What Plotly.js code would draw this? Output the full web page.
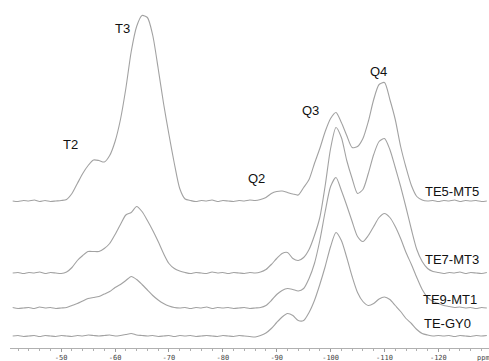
<!DOCTYPE html>
<html>
<head>
<meta charset="utf-8">
<script src="https://cdn.plot.ly/plotly-3.0.1.min.js"></script>
<style>html,body{margin:0;padding:0;background:#fff;}#chart{width:489px;height:361px;}</style>
</head>
<body>
<div id="chart"></div>
<script>
// chemical shift grid (ppm)
const ppm = [-41,-42,-43,-44,-45,-46,-47,-48,-49,-50,
  -51,-52,-53,-54,-55,-56,-57,-58,-59,-60,
  -61,-62,-63,-64,-65,-66,-67,-68,-69,-70,
  -71,-72,-73,-74,-75,-76,-77,-78,-79,-80,
  -81,-82,-83,-84,-85,-86,-87,-88,-89,-90,
  -91,-92,-93,-94,-95,-96,-97,-98,-99,-100,
  -101,-102,-103,-104,-105,-106,-107,-108,-109,-110,
  -111,-112,-113,-114,-115,-116,-117,-118,-119,-120,
  -121,-122,-123,-124,-125,-126,-127,-128,-129];

// intensities (relative)
const te5mt5 = [0.5,0,1,0.5,1.5,0,1,0,0.5,1,
  2,8,18,28,36,41.5,41,39.5,46,60,
  82,113,150,175,186,184,166,133,98,67,
  38,13,2.5,1,0,1,0.5,1.5,0,1,
  0.5,0,1,0.5,1.5,1,2,4,8,10,
  10.5,9,7.5,6.5,14,22,38,53,70,83,
  89,79,66,54,55,63,80,102,117,119,
  102,82,55,34,16,5,1.5,0.5,1,0,
  1,0.5,1.5,0,1,0.5,1,0,0.5];

const te7mt3 = [0.5,1,0,1,0.5,1.5,0,1,0.5,0,
  1.5,6,13,18,22,22,22,25,30,39,
  49,58.5,61,67,62,53,43,32,20,10,
  5,2.5,1,0,1,0.5,0,1.5,0.5,1,
  0,1,0.5,0,1,0.5,1.5,4,9,15,
  20,21,15,13,16,24,38,56,88,125,
  146,136,113,95,80,84,100,119,132,135,
  124,106,87,66,44,24,12,5,2,1,
  0,1,0.5,1.5,0,1,0.5,0,1];

const te9mt1 = [1,0,0.5,1,0,1.5,0.5,1,0,0.5,
  1,3,5,7.5,10,11,12,14.5,17,21,
  24,28,32,29,24,18.5,13,8.5,5,2.5,
  1,0.5,1,0,1,0.5,1.5,0,1,0.5,
  1,0,0.5,1,0,0.5,1,3,8,14,
  18,20,19,17.5,20,30,45,68,97,122,
  131,118,103,87,72,67,73,82,91,95,
  91,82,70,56,44,31,19,11,7,5,
  3,2,1,1.5,0.5,1,0,1,0.5];

const tegy0 = [0.5,1,0,0.5,1,0,1,0.5,0,1,
  0.5,0,1,0.5,1.5,1,0.5,1,1.5,0.5,
  1,2,3,1.5,1,0.5,1,0,0.5,1,
  0,1,0.5,1,0,0.5,1,0.5,0,1,
  0.5,0,1,0.5,0,-0.5,1,3.5,8,14,
  19.5,23,21,16,16,24,36,52,70,90,
  104,96,79,60,44,35,31,33,37.5,39.5,
  37,31,25,18,13,7,3,1.5,0.5,1,
  0.5,1,0,1,0.5,0,1,0.5,1];

const seriesNames = ["TE5-MT5","TE7-MT3","TE9-MT1","TE-GY0"];
const peakLabels = ["T2","T3","Q2","Q3","Q4"];
const tickVals = [-50,-60,-70,-80,-90,-100,-110,-120];
const tickText = ["-50","-60","-70","-80","-90","-100","-110","-120"];
const unitLabel = "ppm";

// stacking offsets (layout)
const stackOffsets = [146.5, 74.5, 39.5, 11.5];
const seriesData = [te5mt5, te7mt3, te9mt1, tegy0];

const traces = seriesData.map((vals, i) => ({
  x: ppm,
  y: vals.map(v => v + stackOffsets[i]),
  type: 'scatter',
  mode: 'lines',
  name: seriesNames[i],
  line: {color: '#a2a2a2', width: 1.1, shape: 'spline', smoothing: 0.7},
  hoverinfo: 'skip'
}));

const txtFont = {family: 'Liberation Sans, Arial, sans-serif', size: 13, color: '#111111'};
const peakPos = [[-51.7, 204], [-61.3, 319.7], [-86.3, 169.7], [-96.2, 238], [-108.9, 276.3]];
const namePos = [[-122.5, 156.3], [-122.5, 88.7], [-122.2, 48.7], [-121.7, 24.7]];

const annotations = [];
peakLabels.forEach((t, i) => annotations.push({
  x: peakPos[i][0], y: peakPos[i][1], xref: 'x', yref: 'y', text: t,
  showarrow: false, font: txtFont, xanchor: 'center', yanchor: 'middle'
}));
seriesNames.forEach((t, i) => annotations.push({
  x: namePos[i][0], y: namePos[i][1], xref: 'x', yref: 'y', text: t,
  showarrow: false, font: txtFont, xanchor: 'center', yanchor: 'middle'
}));
annotations.push({
  x: -128.3, y: 0, xref: 'x', yref: 'paper', text: unitLabel, showarrow: false,
  yanchor: 'top', xanchor: 'center', yshift: -4,
  font: {family: 'DejaVu Sans Mono, monospace', size: 7, color: '#444'}
});

const layout = {
  width: 489, height: 361,
  margin: {l: 10, r: 0, t: 0, b: 13},
  paper_bgcolor: '#ffffff', plot_bgcolor: '#ffffff',
  showlegend: false,
  xaxis: {
    range: [-40.5, -129.4],
    showgrid: false, zeroline: false,
    showline: true, linecolor: '#b0b0b0', linewidth: 1,
    ticks: 'outside', ticklen: 3, tickcolor: '#999', tickwidth: 1,
    tickmode: 'array', tickvals: tickVals, ticktext: tickText,
    tickfont: {family: 'DejaVu Sans Mono, monospace', size: 7, color: '#444'},
    minor: {ticks: 'outside', ticklen: 2, dtick: 2, tick0: 0, tickcolor: '#b0b0b0', showgrid: false}
  },
  yaxis: {range: [0, 348], visible: false, showgrid: false, zeroline: false},
  annotations: annotations
};

Plotly.newPlot('chart', traces, layout, {displayModeBar: false, staticPlot: true});
</script>
</body>
</html>
